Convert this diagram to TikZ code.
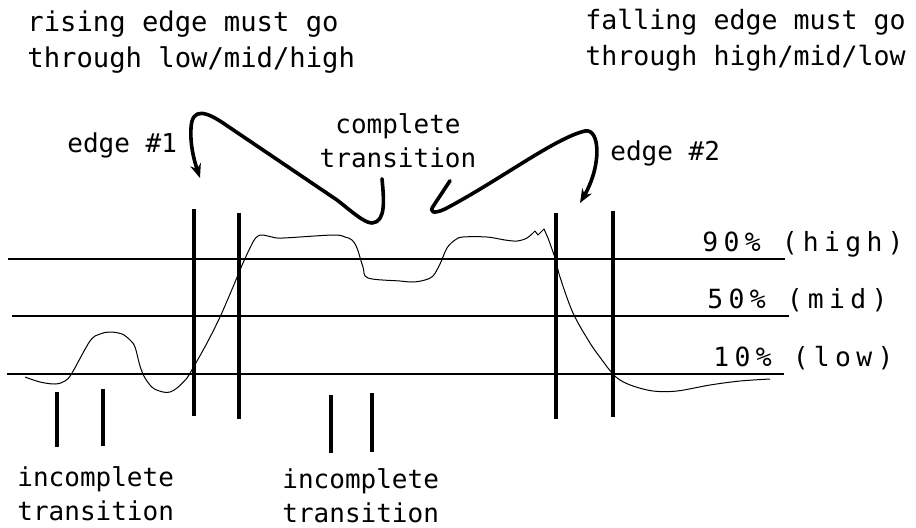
\documentclass[tikz,border=0pt]{standalone}
\usepackage{fontspec}
\setmonofont{DejaVu Sans Mono}
\newfontfamily\levelfont[LetterSpace=20]{DejaVu Sans Mono}
\usetikzlibrary{arrows.meta}
\usetikzlibrary{calc}

\begin{document}
\begin{tikzpicture}[
  x=0.5pt, y=-0.5pt,
  note/.style={
    inner sep=0pt,
    align=left,
    font=\ttfamily\fontsize{13}{17}\selectfont
  },
  title/.style={
    inner sep=0pt,
    anchor=base west,
    align=left,
    font=\ttfamily\fontsize{#1}{18}\selectfont
  },
  level/.style={
    inner sep=0pt,
    anchor=base west,
    font=\levelfont\fontsize{13.2}{17}\selectfont
  },
  thresh/.style={line width=1.1pt},
  window/.style={line width=2pt},
  tick/.style={line width=1.6pt},
  signal/.style={line width=0.5pt, line join=round},
  pointer/.style={-{Stealth[length=7pt,width=5.5pt]}, line width=1.8pt,
    line cap=round, line join=round}
]
\useasboundingbox (0,0) rectangle (916,527);

% ===================== headings =====================
% (base of a two-line node is the base of its last line)
\node[title=13.6] (rise) at (27,67) {rising edge must go\\through low/mid/high};
\node[title=13.3] (fall) at (585,65) {falling edge must go\\through high/mid/low};

% ===================== thresholds =====================
\draw[thresh] (8,259) -- (785,259);
\draw[thresh] (12,316) -- (789,316);
\draw[thresh] (7,374) -- (784,374);

\node[level] (hi)  at (702,251) {90\% (high)};
\node[level] (mid) at (707,308) {50\% (mid)};
\node[level] (lo)  at (713,366) {10\% (low)};

% ===================== signal =====================
\draw[signal] plot[smooth, tension=0.55] coordinates {
  (25,377) (40,382) (55,384) (65,381) (72,373) (90,341) (100,334)
  (110,332) (122,334) (130,340) (135,347) (140,366) (145,378) (153,388)
  (163,392) (170,392) (177,388) (187,378) (193,368) (207,343) (220,317)
  (233,287) (243,263) (253,242) (258,236) (263,235) (272,237) (283,238)
  (333,235) (345,237) (352,240) (357,248) (363,267) (368,278) (400,281)
  (413,282) (425,280) (433,276) (440,264) (447,248) (455,240) (463,237)
  (487,237) (505,240) (517,241) (527,238) (535,231)}
  -- (538,235) -- (544,229) --
  plot[smooth, tension=0.55] coordinates {
  (548,238) (555,258) (560,277) (573,313) (590,343) (602,360) (612,373)
  (620,380) (633,386) (653,391) (677,391) (710,385) (740,381) (770,379)};

% ===================== edge windows =====================
\coordinate (w1) at (194,209);
\coordinate (w2) at (239,213);
\coordinate (w3) at (556,213);
\coordinate (w4) at (613,211);
\draw[window] (w1) -- ++(0,207);
\draw[window] (w2) -- ++(0,206);
\draw[window] (w3) -- ++(0,206);
\draw[window] (w4) -- ++(0,206);

\coordinate (tip1) at (200,178);
\coordinate (tip2) at (580,203);

\node[note, anchor=base west] (edgeA) at (67,152) {edge \#1};
\node[note, anchor=base west] (edgeB) at (610,160) {edge \#2};
\node[note, anchor=base, align=center] (cmpl) at (398,167) {complete\\transition};

\draw[pointer] ($(cmpl.south)+(-16,11)$) .. controls (384,200) and (386,222) .. (372,223)
  .. controls (364,223) and (350,210) .. (337,200) -- (226,125)
  .. controls (206,111) and (192,107) .. (191,128)
  .. controls (190,145) and (194,160) .. (tip1);
\draw[pointer] ($(cmpl.south)+(52,13)$) -- (434,205)
  .. controls (428,213) and (434,214) .. (445,209)
  .. controls (500,180) and (555,138) .. (585,131)
  .. controls (600,128) and (602,165) .. (tip2);

% ===================== incomplete =====================
\draw[tick] (57,392) -- (57,447);
\draw[tick] (103,389) -- (103,446);
\draw[tick] (331,395) -- (331,453);
\draw[tick] (372,393) -- (372,452);

\node[note, anchor=base west] (inc1) at (17,520) {incomplete\\transition};
\node[note, anchor=base west] (inc2) at (282,522) {incomplete\\transition};

\end{tikzpicture}
\end{document}
